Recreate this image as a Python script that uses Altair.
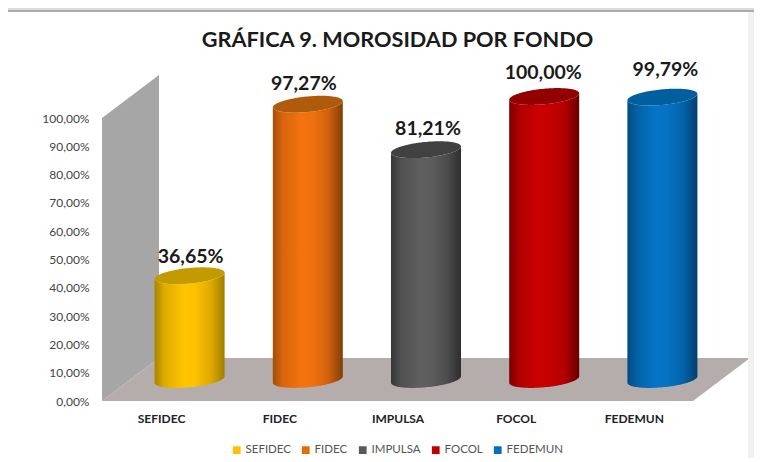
import math
import altair as alt
import pandas as pd

# ---- values
funds = ["SEFIDEC", "FIDEC", "IMPULSA", "FOCOL", "FEDEMUN"]
morosidad = [36.65, 97.27, 81.21, 100.00, 99.79]
value_labels = ["36,65%", "97,27%", "81,21%", "100,00%", "99,79%"]
y_ticks = [0, 10, 20, 30, 40, 50, 60, 70, 80, 90, 100]

# ---- style
legend_colors = ["#ffc000", "#e46c0a", "#595959", "#c00000", "#0070c0"]
cap_colors = ["#c39a00", "#b05a0c", "#414141", "#930000", "#025f9f"]
body_stops = [
    ["#a88400", "#e0ab00", "#ffc400", "#ffc000", "#e0aa00", "#a07e00"],
    ["#a04e0a", "#d9640d", "#f4730f", "#f0700f", "#d0600c", "#7f3e06"],
    ["#353535", "#505050", "#5f5f5f", "#5c5c5c", "#4c4c4c", "#2e2e2e"],
    ["#7a0000", "#b00000", "#cc0000", "#c60000", "#b00000", "#660000"],
    ["#024a80", "#0462a8", "#0575c8", "#0572c2", "#0462a8", "#013f6e"],
]
label_dx = [1, -4, 2, -1, 3]
label_dy = [-19, -20, -21, -24, -27]

PX_W, PX_H = 591, 283
XU, YU = PX_W / 5, PX_H / 100          # pixels per unit of each scale
DX, DY = 57 / XU, 43 / YU              # depth of the 3D box
RX, RY, TILT = 35 / XU, 7.8 / YU, 3.2 / YU

x_scale = alt.Scale(domain=[0, 5], nice=False, zero=False)
y_scale = alt.Scale(domain=[0, 100], nice=False, zero=False)
FONT = "Lato"

x_axis = alt.Axis(
    values=[0.5, 1.5, 2.5, 3.5, 4.5],
    labelExpr="['SEFIDEC','FIDEC','IMPULSA','FOCOL','FEDEMUN'][floor(datum.value)]",
    domain=False, ticks=False, grid=False, labelFont=FONT, labelFontWeight="bold",
    labelFontSize=12, labelColor="#222222", labelPadding=12, labelAngle=0,
    title=None,
)
y_axis = alt.Axis(
    values=y_ticks,
    labelExpr="replace(format(datum.value,'.2f'),'.',',')+'%'",
    domain=False, ticks=False, grid=False, labelFont=FONT,
    labelFontSize=12, labelColor="#444444", labelPadding=13,
    title=None,
)


def X(f="x:Q"):
    return alt.X(f, scale=x_scale, axis=x_axis)


def Y(f="y:Q"):
    return alt.Y(f, scale=y_scale, axis=y_axis)


def ellipse(i, value):
    rows = []
    cx = i + 0.5 + DX / 2
    cy = value + DY / 2
    for k in range(61):
        u = -math.cos(math.pi * k / 60)
        root = math.sqrt(max(0, 1 - u * u))
        rows.append((cx + RX * u, cy + TILT * u, RY * root))
    return rows


wall_df = pd.DataFrame({"x": [0, DX], "lo": [0, DY], "hi": [100, 100 + DY]})
floor_df = pd.DataFrame({"y": [0, DY], "x": [0, DX], "x2": [5, 5 + DX]})
one = pd.DataFrame({"a": [0]})

layers = []

# wall
layers.append(
    alt.Chart(wall_df).mark_area(color="#a6a6a6").encode(x=X(), y=Y("lo:Q"), y2="hi:Q")
)
# floor
layers.append(
    alt.Chart(floor_df).mark_area(color="#b5adac", orient="horizontal").encode(
        y=Y(), x=X(), x2="x2:Q"
    )
)
# cylinders
for i, v in enumerate(morosidad):
    top = ellipse(i, v)
    base = ellipse(i, 0)
    body = pd.DataFrame({
        "x": [p[0] for p in top],
        "y": [p[1] - p[2] for p in top],
        "y2": [q[1] - q[2] for q in base],
    })
    cap = pd.DataFrame({
        "x": [p[0] for p in top],
        "y": [p[1] - p[2] for p in top],
        "y2": [p[1] + p[2] for p in top],
    })
    offs = [0, 0.14, 0.42, 0.58, 0.8, 1]
    grad = alt.LinearGradient(
        gradient="linear", x1=0, x2=1, y1=0, y2=0,
        stops=[alt.GradientStop(offset=o, color=c) for o, c in zip(offs, body_stops[i])],
    )
    layers.append(alt.Chart(body).mark_area(color=grad).encode(x=X(), y=Y(), y2="y2:Q"))
    layers.append(alt.Chart(cap).mark_area(color=cap_colors[i]).encode(x=X(), y=Y(), y2="y2:Q"))
    lab = pd.DataFrame({"x": [i + 0.5 + DX / 2], "y": [v + DY / 2], "t": [value_labels[i]]})
    layers.append(
        alt.Chart(lab).mark_text(
            font=FONT, fontSize=19.5, fontWeight="bold", color="#1a1a1a",
            dx=label_dx[i], dy=label_dy[i], baseline="middle", align="center",
        ).encode(x=X(), y=Y(), text="t:N")
    )

# legend carrier (invisible marks)
leg_df = pd.DataFrame({"fund": funds, "x": [0.5, 1.5, 2.5, 3.5, 4.5], "y": [0] * 5})
layers.append(
    alt.Chart(leg_df).mark_point(opacity=0, filled=True).encode(
        x=X(), y=Y(),
        color=alt.Color("fund:N", scale=alt.Scale(domain=funds, range=legend_colors), legend=alt.Legend(
            orient="none", legendX=129, legendY=326, direction="horizontal", columns=5,
            title=None, symbolType="square", symbolSize=60, symbolOpacity=1,
            labelFont=FONT, labelFontSize=11.5, labelColor="#555555",
            columnPadding=9, symbolStrokeWidth=0, labelOffset=3)),
    )
)

# frame bands around the picture
for xa, xb, ya, yb, c in [
    (-94, 652, -110, -108, "#dcdcdc"),
    (-94, 652, -108, -106, "#ababab"),
    (646, 652, -106, 340, "#f1f1f1"),
]:
    layers.append(
        alt.Chart(one).mark_rect(color=c).encode(
            x=alt.value(xa), x2=alt.value(xb), y=alt.value(ya), y2=alt.value(yb)
        )
    )

chart = alt.layer(*layers).properties(
    width=PX_W,
    height=PX_H,
    autosize=alt.AutoSizeParams(type="none"),
    padding={"left": 94, "top": 110, "right": 61, "bottom": 57},
    title=alt.TitleParams(
        "GRÁFICA 9. MOROSIDAD POR FONDO", font=FONT, fontSize=21.7, fontWeight="bold",
        color="#1a1a1a", anchor="middle", offset=-44,
    ),
).configure_view(stroke=None)

chart.save("out.html", embed_options={"renderer": "svg", "actions": False})
